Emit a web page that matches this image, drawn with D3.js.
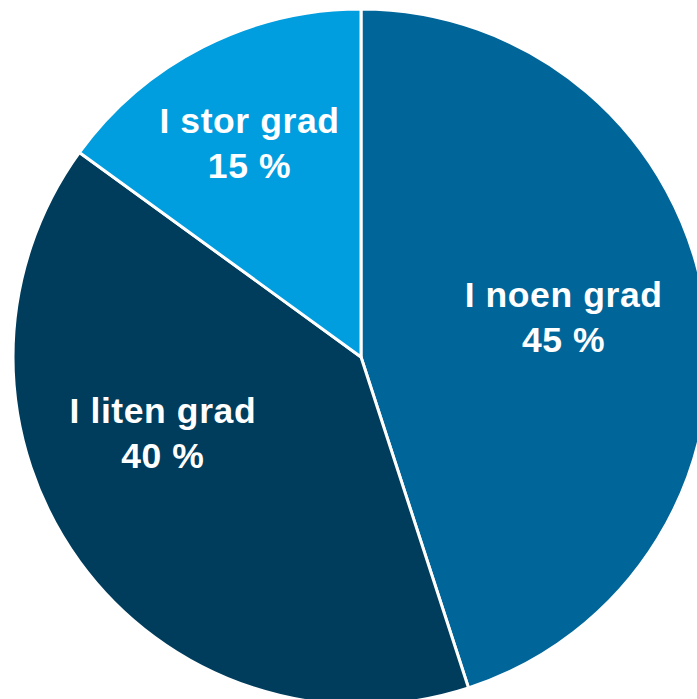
<!DOCTYPE html>
<html>
<head>
<meta charset="utf-8">
<script src="https://cdn.jsdelivr.net/npm/d3@7"></script>
<style>
  html, body { margin: 0; padding: 0; background: #ffffff; overflow: hidden; }
  svg { display: block; }
  text { font-family: "Liberation Sans", Arial, sans-serif; font-weight: bold; fill: #ffffff; }
</style>
</head>
<body>
<svg id="chart" width="697" height="699"></svg>
<script>
// Answer shares, clockwise from 12 o'clock
const categories = ["I noen grad", "I liten grad", "I stor grad"];
const values = [45, 40, 15];
const colors = ["#006699", "#003d5c", "#009ddf"];

const width = 697, height = 699;
const cx = 361, cy = 357, radius = 348;

// label anchor points in the pie's frame: [distance from centre, angle in degrees]
const labelPolar = [[206, 79.1], [213, 248.7], [240.6, 332.3]];

const svg = d3.select("#chart");
const g = svg.append("g").attr("transform", `translate(${cx},${cy})`);

const pie = d3.pie().sort(null).value(d => d)(values);
const arc = d3.arc().innerRadius(0).outerRadius(radius);

g.selectAll("path.slice")
  .data(pie)
  .join("path")
  .attr("class", "slice")
  .attr("d", arc)
  .attr("fill", (d, i) => colors[i])
  .attr("stroke", "#ffffff")
  .attr("stroke-width", 3)
  .attr("stroke-linejoin", "round");

const labels = g.selectAll("g.label")
  .data(pie)
  .join("g")
  .attr("class", "label")
  .attr("transform", (d, i) => {
    const [r, a] = labelPolar[i];
    const t = a * Math.PI / 180;
    return `translate(${r * Math.sin(t)},${-r * Math.cos(t)})`;
  });

labels.append("text")
  .attr("text-anchor", "middle")
  .attr("x", 0.3)
  .attr("y", -11)
  .attr("font-size", 35.5)
  .attr("letter-spacing", 0.6)
  .text((d, i) => categories[i]);

labels.append("text")
  .attr("text-anchor", "middle")
  .attr("x", 0.3)
  .attr("y", 34)
  .attr("font-size", 35.5)
  .attr("letter-spacing", 0.6)
  .text(d => `${d.data} %`);
</script>
</body>
</html>
